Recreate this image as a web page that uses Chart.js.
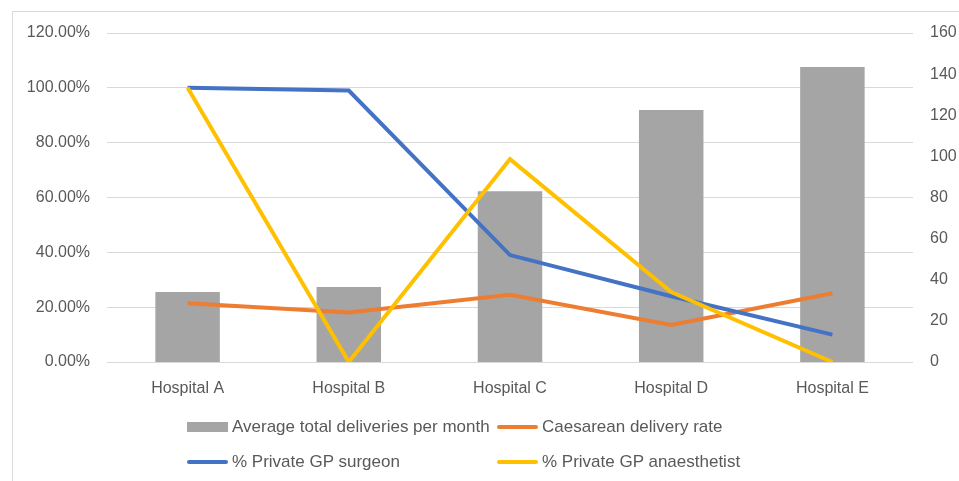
<!DOCTYPE html>
<html lang="en">
<head>
    <meta charset="UTF-8">
    <title>Hospital deliveries</title>
    <script src="https://cdn.jsdelivr.net/npm/chart.js"></script>
    <style>
        body { margin: 0; background: #fff; font-family: "Liberation Sans", Arial, sans-serif; }
        #frame { position: absolute; left: 12px; top: 11px; width: 1000px; height: 500px; border: 1px solid #d9d9d9; }
        #wrap { position: absolute; left: 0; top: 0; width: 959px; height: 481px; }
        .legend-item { position: absolute; height: 20px; display: flex; align-items: center; font-size: 17px; color: #595959; white-space: nowrap; }
        .legend-item .swatch { width: 41px; margin-right: 4px; }
    </style>
</head>
<body>
    <div id="frame"></div>
    <div id="wrap">
        <canvas id="chart" width="959" height="481"></canvas>
    </div>
    <div id="legend"></div>

    <script type="text/javascript">
        // data
        const categories = ['Hospital A', 'Hospital B', 'Hospital C', 'Hospital D', 'Hospital E'];
        const deliveries = [34, 36.5, 83, 122.5, 143.5];          // right axis
        const caesareanRate = [0.214, 0.181, 0.245, 0.135, 0.251]; // left axis
        const gpSurgeon = [1.0, 0.99, 0.39, 0.24, 0.10];
        const gpAnaesthetist = [1.0, 0, 0.74, 0.255, 0];

        const textColor = '#595959';
        const gridColor = '#d9d9d9';
        const font = { family: '"Liberation Sans", Arial, sans-serif', size: 16 };

        function lineSet(label, data, color, order) {
            return {
                type: 'line',
                label: label,
                data: data,
                yAxisID: 'y',
                borderColor: color,
                backgroundColor: color,
                borderWidth: 4,
                pointRadius: 0,
                tension: 0,
                order: order
            };
        }

        const datasets = [
            {
                type: 'bar',
                label: 'Average total deliveries per month',
                data: deliveries,
                yAxisID: 'y1',
                backgroundColor: '#a5a5a5',
                barPercentage: 0.4,
                categoryPercentage: 1.0,
                order: 4
            },
            lineSet('Caesarean delivery rate', caesareanRate, '#ed7d31', 3),
            lineSet('% Private GP surgeon', gpSurgeon, '#4472c4', 2),
            lineSet('% Private GP anaesthetist', gpAnaesthetist, '#ffc000', 1)
        ];

        const ctx = document.getElementById('chart').getContext('2d');
        const chart = new Chart(ctx, {
            data: { labels: categories, datasets: datasets },
            options: {
                responsive: false,
                animation: false,
                layout: { padding: { top: 33, left: 0, right: 0, bottom: 0 } },
                plugins: { legend: { display: false }, tooltip: { enabled: false } },
                scales: {
                    x: {
                        type: 'category',
                        offset: true,
                        grid: { display: false },
                        border: { display: false },
                        ticks: { color: textColor, font: font, padding: 9, maxRotation: 0 },
                        afterFit: function (s) { s.height = 119; }
                    },
                    y: {
                        position: 'left',
                        min: 0,
                        max: 1.2,
                        ticks: {
                            stepSize: 0.2,
                            color: textColor,
                            font: font,
                            padding: 17,
                            callback: function (v) { return (v * 100).toFixed(2) + '%'; }
                        },
                        grid: { color: gridColor, lineWidth: 1, drawTicks: false },
                        border: { display: false },
                        afterFit: function (s) { s.width = 107; }
                    },
                    y1: {
                        position: 'right',
                        min: 0,
                        max: 160,
                        ticks: { stepSize: 20, color: textColor, font: font, padding: 17 },
                        grid: { display: false, drawTicks: false },
                        border: { display: false },
                        afterFit: function (s) { s.width = 46; }
                    }
                }
            }
        });

        // legend laid out in a 2x2 grid like the original
        const legendPos = [[187, 417], [497, 417], [187, 452], [497, 452]];
        const legend = document.getElementById('legend');
        datasets.forEach(function (ds, i) {
            const item = document.createElement('div');
            item.className = 'legend-item';
            item.style.left = legendPos[i][0] + 'px';
            item.style.top = legendPos[i][1] + 'px';
            const sw = document.createElement('div');
            sw.className = 'swatch';
            sw.style.height = ds.type === 'bar' ? '10px' : '4px';
            sw.style.background = ds.type === 'bar' ? ds.backgroundColor : ds.borderColor;
            if (ds.type !== 'bar') sw.style.borderRadius = '2px';
            item.appendChild(sw);
            item.appendChild(document.createTextNode(ds.label));
            legend.appendChild(item);
        });
    </script>
</body>
</html>
